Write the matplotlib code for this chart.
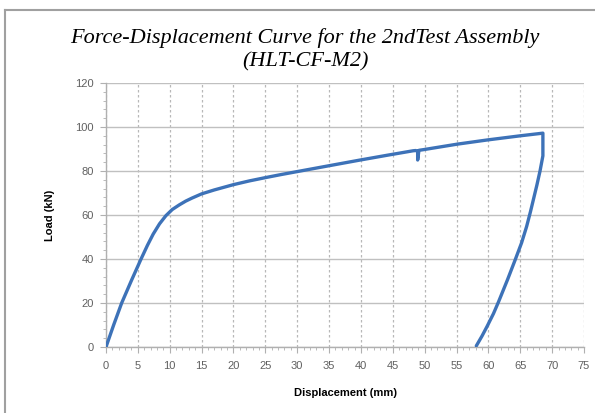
import matplotlib
matplotlib.use("Agg")
import matplotlib.pyplot as plt
from matplotlib.lines import Line2D
from matplotlib.ticker import MultipleLocator

# Data
disp = [0, 1.2, 2.46, 4.0, 5.5, 6.5, 7.4, 8.4, 9.4, 10.4, 11.5, 12.5, 13.5, 15.0,
        17.0, 20.0, 22.5, 25.2, 27.5, 30.5, 35.0, 39.9, 44.0, 48.2,
        48.6, 48.9, 48.9, 49.1, 49.8, 55.1, 59.8, 65.0, 68.55,
        68.55, 68.1, 67.6, 67.1, 66.6, 66.0, 65.2, 64.2, 63.0, 61.6, 60.8, 59.8, 59.0, 58.1]
load = [0, 10.0, 20.0, 30.3, 40.0, 46.2, 51.3, 56.0, 59.7, 62.5, 64.6, 66.3, 67.7, 69.6,
        71.4, 73.8, 75.5, 77.1, 78.4, 80.0, 82.4, 85.0, 87.1, 89.2,
        89.3, 89.0, 85.0, 89.4, 89.7, 92.2, 94.1, 96.0, 97.2,
        86.9, 80.0, 73.5, 67.5, 61.5, 54.8, 47.3, 39.6, 30.6, 20.6, 15.2, 9.4, 5.0, 0.5]

title = "Force-Displacement Curve for the 2ndTest Assembly\n(HLT-CF-M2)"
xlabel = "Displacement (mm)"
ylabel = "Load (kN)"
xticks = list(range(0, 80, 5))
yticks = list(range(0, 140, 20))

fig = plt.figure(figsize=(5.95, 4.13), dpi=100)
ax = fig.add_axes([106/595, 1-347/413, (584-106)/595, (347-83)/413])

ax.plot(disp, load, color="#3d72b8", lw=2.4, solid_joinstyle="round",
        solid_capstyle="round", zorder=3)

ax.set_xlim(0, 75)
ax.set_ylim(0, 120)
ax.set_xticks(xticks)
ax.set_yticks(yticks)
ax.xaxis.set_minor_locator(MultipleLocator(1))
ax.yaxis.set_minor_locator(MultipleLocator(4))
ax.grid(axis="y", which="major", color="#c0c0c0", lw=1.0, ls="-")
ax.grid(axis="x", which="major", color="#b8b8b8", lw=0.9, ls=(0, (2, 2)))
ax.set_axisbelow(True)

for s in ["top", "right"]:
    ax.spines[s].set_visible(False)
for s in ["left", "bottom"]:
    ax.spines[s].set_color("#b0b0b0")
    ax.spines[s].set_linewidth(1.0)

ax.tick_params(axis="both", which="major", length=4, color="#b0b0b0",
               labelcolor="#606060", labelsize=8)
ax.tick_params(axis="both", which="minor", length=2.5, color="#b0b0b0")
for lab in ax.get_xticklabels() + ax.get_yticklabels():
    lab.set_family("Liberation Sans")
ax.tick_params(axis="x", pad=6)
ax.tick_params(axis="y", pad=5)

ax.set_xlabel(xlabel, fontsize=8, fontweight="bold", family="Liberation Sans", labelpad=12)
ax.set_ylabel(ylabel, fontsize=8, fontweight="bold", family="Liberation Sans", labelpad=14)

fig.text(305/595, 1-50/413, title, ha="center", va="center", fontsize=16,
         family="Liberation Serif", style="italic", linespacing=1.3)

# outer frame (top and left edges visible)
fig.add_artist(Line2D([4.5/595, 4.5/595], [0, 1-10/413], transform=fig.transFigure,
                      color="#a0a0a0", lw=1.5))
fig.add_artist(Line2D([4.5/595, 1], [1-10/413, 1-10/413], transform=fig.transFigure,
                      color="#a0a0a0", lw=1.5))

fig.savefig("out.png", dpi=100)
